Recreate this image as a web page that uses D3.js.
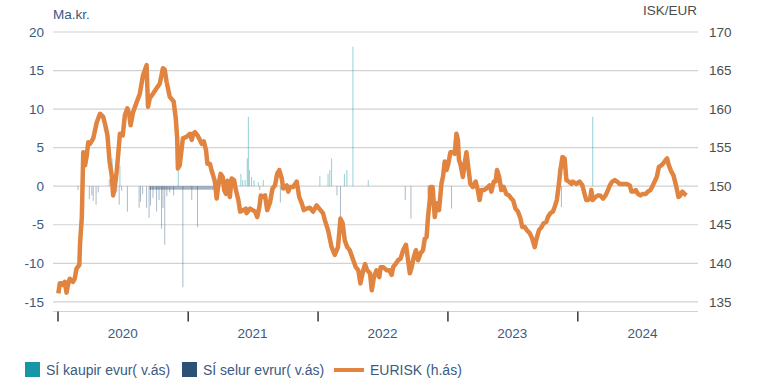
<!DOCTYPE html>
<html>
<head>
<meta charset="utf-8">
<script src="https://cdn.jsdelivr.net/npm/d3@7"></script>
<style>
  body { margin: 0; background: #fff; }
  svg { display: block; font-family: "Liberation Sans", Arial, sans-serif; }
</style>
</head>
<body>
<svg id="chart" width="764" height="380"></svg>
<script>
// EURISK exchange rate (right axis, ISK per EUR)
const eurDates = [
  "2020-01-02","2020-01-06","2020-01-11","2020-01-15","2020-01-20","2020-01-25","2020-01-29","2020-02-03",
  "2020-02-12","2020-02-17","2020-02-22","2020-03-01","2020-03-03","2020-03-08","2020-03-12","2020-03-17",
  "2020-03-22","2020-03-26","2020-03-31","2020-04-09","2020-04-19","2020-04-28","2020-05-07","2020-05-12",
  "2020-05-19","2020-05-25","2020-05-31","2020-06-04","2020-06-09","2020-06-14","2020-06-18","2020-06-23",
  "2020-07-01","2020-07-07","2020-07-14","2020-07-19","2020-07-23","2020-07-30","2020-08-09","2020-08-18",
  "2020-08-27","2020-09-06","2020-09-10","2020-09-15","2020-09-24","2020-10-04","2020-10-13","2020-10-22",
  "2020-10-27","2020-11-01","2020-11-10","2020-11-21","2020-11-27","2020-12-01","2020-12-03","2020-12-08",
  "2020-12-17","2020-12-27",
  "2021-01-06","2021-01-11","2021-01-15","2021-01-20","2021-01-27","2021-02-03","2021-02-08","2021-02-14",
  "2021-02-20","2021-02-24","2021-03-03","2021-03-08","2021-03-12","2021-03-17","2021-03-22","2021-03-26",
  "2021-04-02","2021-04-08","2021-04-12","2021-04-17","2021-04-21","2021-04-28","2021-05-03","2021-05-10",
  "2021-05-15","2021-05-22","2021-05-27","2021-06-05","2021-06-12","2021-06-14","2021-06-24","2021-07-01",
  "2021-07-08","2021-07-14","2021-07-20","2021-07-24","2021-07-29","2021-08-05","2021-08-11","2021-08-19",
  "2021-08-26","2021-09-02","2021-09-08","2021-09-14","2021-09-21","2021-09-25","2021-10-05","2021-10-09",
  "2021-10-14","2021-10-23","2021-11-02","2021-11-09","2021-11-16","2021-11-22","2021-11-30","2021-12-09",
  "2021-12-18","2021-12-28",
  "2022-01-06","2022-01-15","2022-01-20","2022-01-29","2022-02-08","2022-02-17","2022-02-26","2022-03-05",
  "2022-03-11","2022-03-17","2022-03-24","2022-03-31","2022-04-10","2022-04-17","2022-04-24","2022-04-30",
  "2022-05-08","2022-05-13","2022-05-19","2022-05-27","2022-06-01","2022-06-07","2022-06-14","2022-06-22",
  "2022-06-26","2022-07-03","2022-07-13","2022-07-20","2022-07-27","2022-07-31","2022-08-08","2022-08-14",
  "2022-08-21","2022-08-28","2022-09-05","2022-09-11","2022-09-16","2022-09-21","2022-09-27","2022-10-03",
  "2022-10-09","2022-10-16","2022-10-23","2022-10-28","2022-11-02","2022-11-06","2022-11-11","2022-11-13",
  "2022-11-19","2022-11-25","2022-11-30","2022-12-07","2022-12-14","2022-12-18","2022-12-23","2022-12-28",
  "2023-01-02","2023-01-08","2023-01-15","2023-01-20","2023-01-25","2023-01-29","2023-02-01","2023-02-05",
  "2023-02-12","2023-02-17","2023-02-22","2023-02-26","2023-03-05","2023-03-12","2023-03-20","2023-03-26",
  "2023-03-31","2023-04-05","2023-04-12","2023-04-19","2023-04-28","2023-05-03","2023-05-10","2023-05-15",
  "2023-05-19","2023-05-25","2023-05-31","2023-06-07","2023-06-14","2023-06-22","2023-06-28","2023-07-03",
  "2023-07-10","2023-07-17","2023-07-24","2023-07-29","2023-08-05","2023-08-11","2023-08-19","2023-08-26",
  "2023-09-02","2023-09-06","2023-09-14","2023-09-21","2023-09-27","2023-10-05","2023-10-09","2023-10-16",
  "2023-10-23","2023-10-28","2023-11-03","2023-11-09","2023-11-13","2023-11-19","2023-11-25","2023-11-30",
  "2023-12-07","2023-12-14","2023-12-18","2023-12-28",
  "2024-01-06","2024-01-14","2024-01-20","2024-01-25","2024-01-29","2024-02-05","2024-02-08","2024-02-12",
  "2024-02-20","2024-02-26","2024-03-04","2024-03-12","2024-03-19","2024-03-26","2024-03-31","2024-04-07",
  "2024-04-14","2024-04-20","2024-04-28","2024-05-05","2024-05-12","2024-05-18","2024-05-26","2024-05-31",
  "2024-06-06","2024-06-12","2024-06-18","2024-06-25","2024-07-02","2024-07-10","2024-07-16","2024-07-23",
  "2024-07-28","2024-08-04","2024-08-10","2024-08-16","2024-08-23","2024-08-29","2024-09-04","2024-09-08",
  "2024-09-13","2024-09-20","2024-09-26","2024-10-02","2024-10-06","2024-10-10","2024-10-15","2024-10-21",
  "2024-10-27","2024-11-01"
];
const eurValues = [
  136.1,137.4,137.4,137.2,137.6,136.2,137.2,138.0,
  137.6,138.0,139.3,139.8,142.6,146.0,154.4,152.7,
  154.0,155.7,155.5,156.2,158.3,159.4,159.0,158.1,
  156.6,153.2,151.4,148.8,150.1,151.9,154.0,156.8,
  156.6,159.2,160.1,159.4,157.9,159.6,160.9,162.0,
  164.4,165.7,160.3,161.4,162.0,162.7,163.3,165.3,
  165.1,163.6,161.6,161.0,158.8,156.2,152.3,152.7,
  156.2,156.4,
  156.8,156.0,156.8,157.0,156.6,156.0,155.5,155.8,
  154.7,152.9,152.9,152.0,151.4,150.6,148.4,149.9,
  151.6,151.2,149.5,149.0,150.7,148.6,151.0,150.8,
  149.5,148.2,146.7,146.9,147.1,146.5,147.1,146.9,
  146.7,146.0,147.3,148.8,148.6,148.8,146.9,147.9,
  149.7,150.1,151.6,152.1,151.0,149.7,150.1,149.3,
  149.9,149.9,150.6,148.6,147.8,146.9,147.1,147.2,
  146.7,147.5,
  147.0,146.5,145.6,144.3,142.1,141.1,142.1,145.8,
  145.2,143.0,142.1,141.7,140.4,139.5,139.1,137.4,
  139.1,139.9,139.1,138.7,136.5,138.2,139.1,138.2,
  139.5,139.5,139.1,139.1,138.5,139.5,140.0,140.4,
  140.6,141.7,142.4,140.4,138.7,139.5,140.8,141.7,
  140.4,141.3,141.7,143.2,143.4,146.0,148.2,149.9,
  149.9,146.0,147.8,146.9,150.4,151.2,153.2,152.1,
  152.9,154.4,154.4,154.2,156.8,156.0,153.4,152.9,
  151.2,152.9,154.4,152.9,150.3,149.9,150.6,149.5,
  148.2,149.5,149.5,149.7,150.1,149.3,150.6,150.6,
  152.1,151.2,149.5,149.9,149.0,148.8,148.4,148.2,
  147.1,146.7,145.8,144.7,144.7,144.3,143.9,143.2,
  142.1,143.0,144.3,144.7,145.2,145.4,146.0,146.5,
  146.7,147.3,148.2,150.3,152.1,153.8,153.6,150.8,
  150.6,150.3,150.6,150.3,
  150.6,150.1,149.0,148.2,148.2,148.4,149.5,148.2,
  148.6,148.8,148.8,148.4,148.8,149.5,150.1,150.6,
  150.8,150.6,150.3,150.3,150.3,150.3,150.1,149.3,
  149.3,149.5,149.0,148.8,149.0,149.0,149.3,149.5,
  149.9,150.6,151.2,152.5,152.7,153.0,153.4,153.6,
  152.7,151.9,151.4,150.3,149.5,148.6,148.8,149.3,
  149.0,148.8
];

// Central bank purchases of euros (left axis, bn ISK)
const buyDates = [
  "2020-05-24","2020-06-01","2020-06-23","2020-12-04",
  "2021-05-29","2021-06-03","2021-06-10","2021-06-16","2021-06-19","2021-06-22","2021-06-28","2021-07-05",
  "2021-07-17","2021-07-31",
  "2022-01-06","2022-01-29","2022-02-03","2022-02-08","2022-03-16","2022-03-23","2022-04-09","2022-05-22",
  "2024-02-12"
];
const buyValues = [
  0.9,3.6,2.7,2.2,
  1.6,0.8,0.8,3.6,9.0,2.1,1.2,0.8,
  0.5,0.8,
  1.3,1.6,2.1,3.6,1.6,2.1,18.1,0.8,
  9.0
];

// Central bank sales of euros (left axis, bn ISK)
const sellDates = [
  "2020-02-26","2020-03-29","2020-04-05","2020-04-09","2020-04-17","2020-04-23","2020-06-14","2020-06-21",
  "2020-06-28","2020-07-14","2020-08-16","2020-08-20","2020-08-26","2020-09-06","2020-09-13","2020-09-17",
  "2020-09-24","2020-10-04","2020-10-11","2020-10-18","2020-10-22","2020-10-27","2020-11-02","2020-11-10",
  "2020-11-21","2020-12-17",
  "2021-01-11","2021-01-27","2021-07-21","2021-09-17",
  "2022-02-23","2022-03-05","2022-09-03","2022-09-19","2022-11-06",
  "2023-01-11","2023-11-16"
];
const sellValues = [
  -0.5,-1.7,-1.2,-1.9,-2.4,-0.8,-0.8,-2.4,
  -0.6,-3.3,-2.8,-2.0,-1.0,-2.8,-4.1,-2.5,
  -1.5,-3.3,-1.8,-5.5,-2.8,-7.6,-1.3,-0.8,
  -1.2,-13.1,
  -1.8,-5.3,-0.5,-2.1,
  -1.2,-4.0,-1.8,-4.2,-1.0,
  -2.9,-2.7
];

// Regular daily sales programme, one entry per week (daily amount, bn ISK)
const regularWeeks = [
  "2020-09-14","2020-09-21","2020-09-28","2020-10-05","2020-10-12","2020-10-19","2020-10-26","2020-11-02",
  "2020-11-09","2020-11-16","2020-11-23","2020-11-30","2020-12-07","2020-12-14","2020-12-21","2020-12-28",
  "2021-01-04","2021-01-11","2021-01-18","2021-01-25","2021-02-01","2021-02-08","2021-02-15","2021-02-22",
  "2021-03-01","2021-03-08","2021-03-15"
];
const regularValues = [
  -0.45,-0.45,-0.45,-0.45,-0.45,-0.45,-0.45,-0.45,
  -0.45,-0.45,-0.45,-0.45,-0.45,-0.45,-0.45,-0.45,
  -0.45,-0.45,-0.45,-0.45,-0.45,-0.45,-0.45,-0.45,
  -0.45,-0.45,-0.45
];

const leftTicks = [-15, -10, -5, 0, 5, 10, 15, 20];
const rightTicks = [135, 140, 145, 150, 155, 160, 165, 170];
const yearLabels = ["2020", "2021", "2022", "2023", "2024"];
const legendLabels = ["SÍ kaupir evur( v.ás)", "SÍ selur evrur( v.ás)", "EURISK (h.ás)"];

const colors = {
  buy: "#1697a6",
  sell: "#2e5075",
  line: "#e0843f",
  grid: "#d2d2d2",
  axisText: "#3b5a7f",
  rightText: "#4d4d4d"
};

const parse = d3.timeParse("%Y-%m-%d");
const plot = { left: 53, right: 698, top: 32, bottom: 311.5 };

const x = d3.scaleTime()
  .domain([new Date(2020, 0, 1), new Date(2025, 0, 1)])
  .range([58, 708]);
const yL = d3.scaleLinear().domain([-16.25, 20]).range([plot.bottom, plot.top]);
const yR = d3.scaleLinear().domain([133.75, 170]).range([plot.bottom, plot.top]);

const svg = d3.select("#chart");

// gridlines
svg.append("g").selectAll("line").data(leftTicks).join("line")
  .attr("x1", plot.left).attr("x2", plot.right)
  .attr("y1", d => yL(d)).attr("y2", d => yL(d))
  .attr("stroke", colors.grid).attr("stroke-width", 1.2);

// bottom axis line
svg.append("line")
  .attr("x1", plot.left).attr("x2", plot.right)
  .attr("y1", plot.bottom).attr("y2", plot.bottom)
  .attr("stroke", colors.grid).attr("stroke-width", 1.2);

// left axis labels
svg.append("g").selectAll("text").data(leftTicks).join("text")
  .attr("x", 44).attr("y", d => yL(d)).attr("dy", "0.35em")
  .attr("text-anchor", "end").attr("font-size", 13.5)
  .attr("fill", colors.axisText).text(d => d);

// right axis labels
svg.append("g").selectAll("text").data(rightTicks).join("text")
  .attr("x", 709).attr("y", d => yR(d)).attr("dy", "0.35em")
  .attr("text-anchor", "start").attr("font-size", 13.5)
  .attr("fill", colors.rightText).text(d => d);

// axis titles
svg.append("text").attr("x", 53).attr("y", 19).attr("font-size", 13.5)
  .attr("fill", colors.axisText).text("Ma.kr.");
svg.append("text").attr("x", 697).attr("y", 15).attr("font-size", 13.5)
  .attr("text-anchor", "end").attr("fill", colors.rightText).text("ISK/EUR");

// year ticks and labels
const yearStarts = yearLabels.map(y => new Date(+y, 0, 1));
svg.append("g").selectAll("line").data(yearStarts).join("line")
  .attr("x1", d => x(d)).attr("x2", d => x(d))
  .attr("y1", plot.bottom).attr("y2", plot.bottom + 10)
  .attr("stroke", "#444").attr("stroke-width", 1.6);
svg.append("g").selectAll("text").data(yearLabels).join("text")
  .attr("x", d => x(new Date(+d, 6, 1))).attr("y", 338)
  .attr("text-anchor", "middle").attr("font-size", 13.5)
  .attr("fill", colors.axisText).text(d => d);

// regular sales band
const regular = regularWeeks.map((d, i) => ({ date: parse(d), value: regularValues[i] }));
svg.append("g").selectAll("rect").data(regular).join("rect")
  .attr("x", d => x(d.date))
  .attr("width", d => x(d3.timeDay.offset(d.date, 7)) - x(d.date))
  .attr("y", yL(0))
  .attr("height", d => yL(d.value) - yL(0))
  .attr("fill", colors.sell).attr("fill-opacity", 0.45);

// individual sales
const sells = sellDates.map((d, i) => ({ date: parse(d), value: sellValues[i] }));
svg.append("g").selectAll("rect").data(sells).join("rect")
  .attr("x", d => x(d.date) - 0.5).attr("width", 1)
  .attr("y", yL(0))
  .attr("height", d => yL(d.value) - yL(0))
  .attr("fill", colors.sell).attr("fill-opacity", 0.4);

// purchases
const buys = buyDates.map((d, i) => ({ date: parse(d), value: buyValues[i] }));
svg.append("g").selectAll("rect").data(buys).join("rect")
  .attr("x", d => x(d.date) - 0.5).attr("width", 1)
  .attr("y", d => yL(d.value))
  .attr("height", d => yL(0) - yL(d.value))
  .attr("fill", colors.buy).attr("fill-opacity", 0.45);

// EURISK line
const eur = eurDates.map((d, i) => ({ date: parse(d), value: eurValues[i] }));
svg.append("path").datum(eur)
  .attr("d", d3.line().x(d => x(d.date)).y(d => yR(d.value)))
  .attr("fill", "none").attr("stroke", colors.line)
  .attr("stroke-width", 4.5).attr("stroke-linejoin", "round").attr("stroke-linecap", "butt");

// legend
const legend = svg.append("g").attr("font-size", 14).attr("fill", colors.axisText);
legend.append("rect").attr("x", 25).attr("y", 362).attr("width", 15).attr("height", 15).attr("fill", colors.buy);
legend.append("text").attr("x", 46).attr("y", 375).text(legendLabels[0]);
legend.append("rect").attr("x", 182).attr("y", 362).attr("width", 15).attr("height", 15).attr("fill", colors.sell);
legend.append("text").attr("x", 203).attr("y", 375).text(legendLabels[1]);
legend.append("line").attr("x1", 334).attr("x2", 364).attr("y1", 370).attr("y2", 370)
  .attr("stroke", colors.line).attr("stroke-width", 4);
legend.append("text").attr("x", 370).attr("y", 375).text(legendLabels[2]);
</script>
</body>
</html>
